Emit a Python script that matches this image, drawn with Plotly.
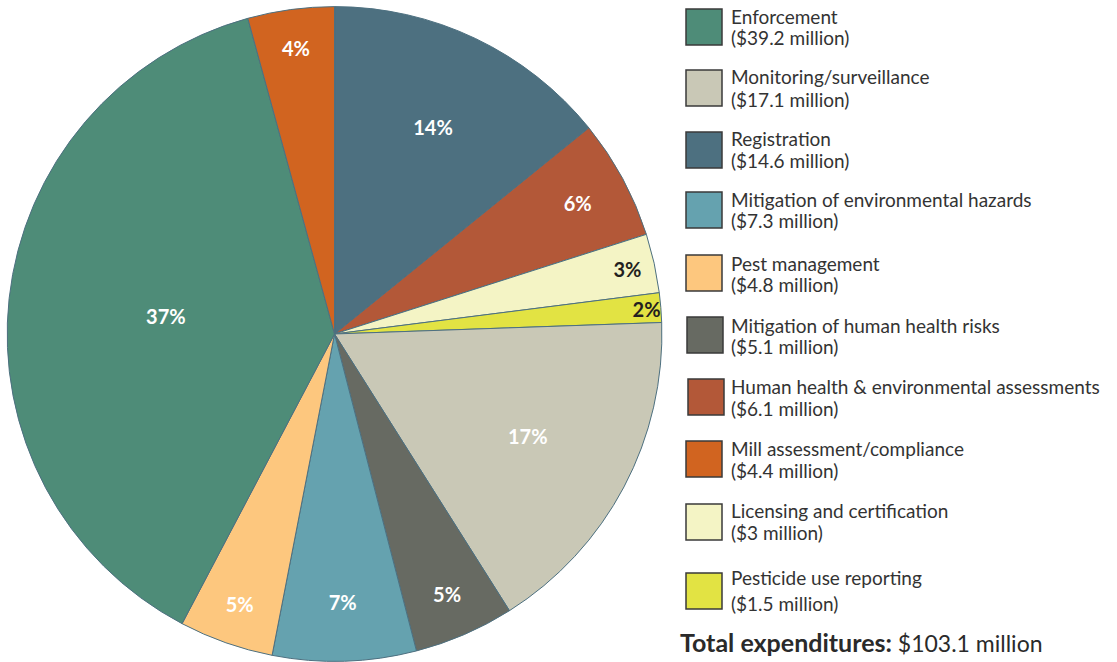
import plotly.graph_objects as go

# ---- data (legend order) ----
categories = [
    "Enforcement",
    "Monitoring/surveillance",
    "Registration",
    "Mitigation of environmental hazards",
    "Pest management",
    "Mitigation of human health risks",
    "Human health & environmental assessments",
    "Mill assessment/compliance",
    "Licensing and certification",
    "Pesticide use reporting",
]
values_musd = [39.2, 17.1, 14.6, 7.3, 4.8, 5.1, 6.1, 4.4, 3.0, 1.5]
value_labels = ["$39.2 million", "$17.1 million", "$14.6 million", "$7.3 million",
                "$4.8 million", "$5.1 million", "$6.1 million", "$4.4 million",
                "$3 million", "$1.5 million"]
pct_labels = ["37%", "17%", "14%", "7%", "5%", "5%", "6%", "4%", "3%", "2%"]
colors = ["#4E8C78", "#C9C8B6", "#4D7080", "#65A2AF", "#FDC77E",
          "#676A62", "#B35838", "#D16420", "#F4F4C5", "#E2E343"]
text_colors = ["white", "white", "white", "white", "white",
               "white", "white", "white", "#231F20", "#231F20"]
total_label = "$103.1 million"

# clockwise order of slices starting at 12 o'clock
slice_order = [
    "Registration",
    "Human health & environmental assessments",
    "Licensing and certification",
    "Pesticide use reporting",
    "Monitoring/surveillance",
    "Mitigation of human health risks",
    "Mitigation of environmental hazards",
    "Pest management",
    "Enforcement",
    "Mill assessment/compliance",
]

idx = [categories.index(c) for c in slice_order]

fig = go.Figure()
fig.add_trace(go.Pie(
    labels=[categories[i] for i in idx],
    values=[values_musd[i] for i in idx],
    text=["<b>" + pct_labels[i] + "</b>" for i in idx],
    textinfo="text",
    textposition="inside",
    insidetextorientation="horizontal",
    textfont=dict(family="Lato", size=20, color=[text_colors[i] for i in idx]),
    marker=dict(colors=[colors[i] for i in idx], line=dict(color="#4D7080", width=1)),
    sort=False,
    direction="clockwise",
    rotation=0,
    showlegend=False,
    hoverinfo="label+value",
    domain=dict(x=[0.0063, 0.5927], y=[0.001, 0.990]),
))

# ---- custom legend ----
W, H = 1117, 662
box_tops = [9, 70, 132, 192, 255, 317, 379, 441, 504, 573]
box_lefts = [686, 686, 686, 686, 686, 687, 688, 686, 686, 686]
name_offsets = [7, 7, 7, 8, 8, 8, 7, 7, 7, 4]
value_offsets = [29, 29, 28, 29, 29, 29, 29, 29, 28, 30]
box = 36

shapes = []
annotations = []
for k, cat in enumerate(categories):
    x0 = box_lefts[k]
    y0 = box_tops[k]
    shapes.append(dict(
        type="rect", xref="paper", yref="paper",
        x0=x0 / W, x1=(x0 + box) / W, y0=1 - (y0 + box) / H, y1=1 - y0 / H,
        fillcolor=colors[k], line=dict(color="#3a3a3a", width=1.5),
    ))
    annotations.append(dict(
        x=729 / W, y=1 - (y0 + name_offsets[k]) / H, xref="paper", yref="paper",
        xanchor="left", yanchor="middle", showarrow=False, text=cat,
        font=dict(family="Lato", size=19, color="#333333"),
    ))
    annotations.append(dict(
        x=729 / W, y=1 - (y0 + value_offsets[k]) / H, xref="paper", yref="paper",
        xanchor="left", yanchor="middle", showarrow=False,
        text="(" + value_labels[k] + ")",
        font=dict(family="Lato", size=19, color="#333333"),
    ))

annotations.append(dict(
    x=678 / W, y=1 - 642 / H, xref="paper", yref="paper",
    xanchor="left", yanchor="middle", showarrow=False,
    text="<span style='font-size:25px'><b>Total expenditures:</b></span> " + total_label,
    font=dict(family="Lato", size=23, color="#2a2a2a"),
))

fig.update_layout(
    width=W, height=H,
    margin=dict(l=0, r=0, t=0, b=0),
    paper_bgcolor="white", plot_bgcolor="white",
    shapes=shapes, annotations=annotations,
    uniformtext=dict(minsize=20, mode="show"),
)

fig.write_html("out.html")
